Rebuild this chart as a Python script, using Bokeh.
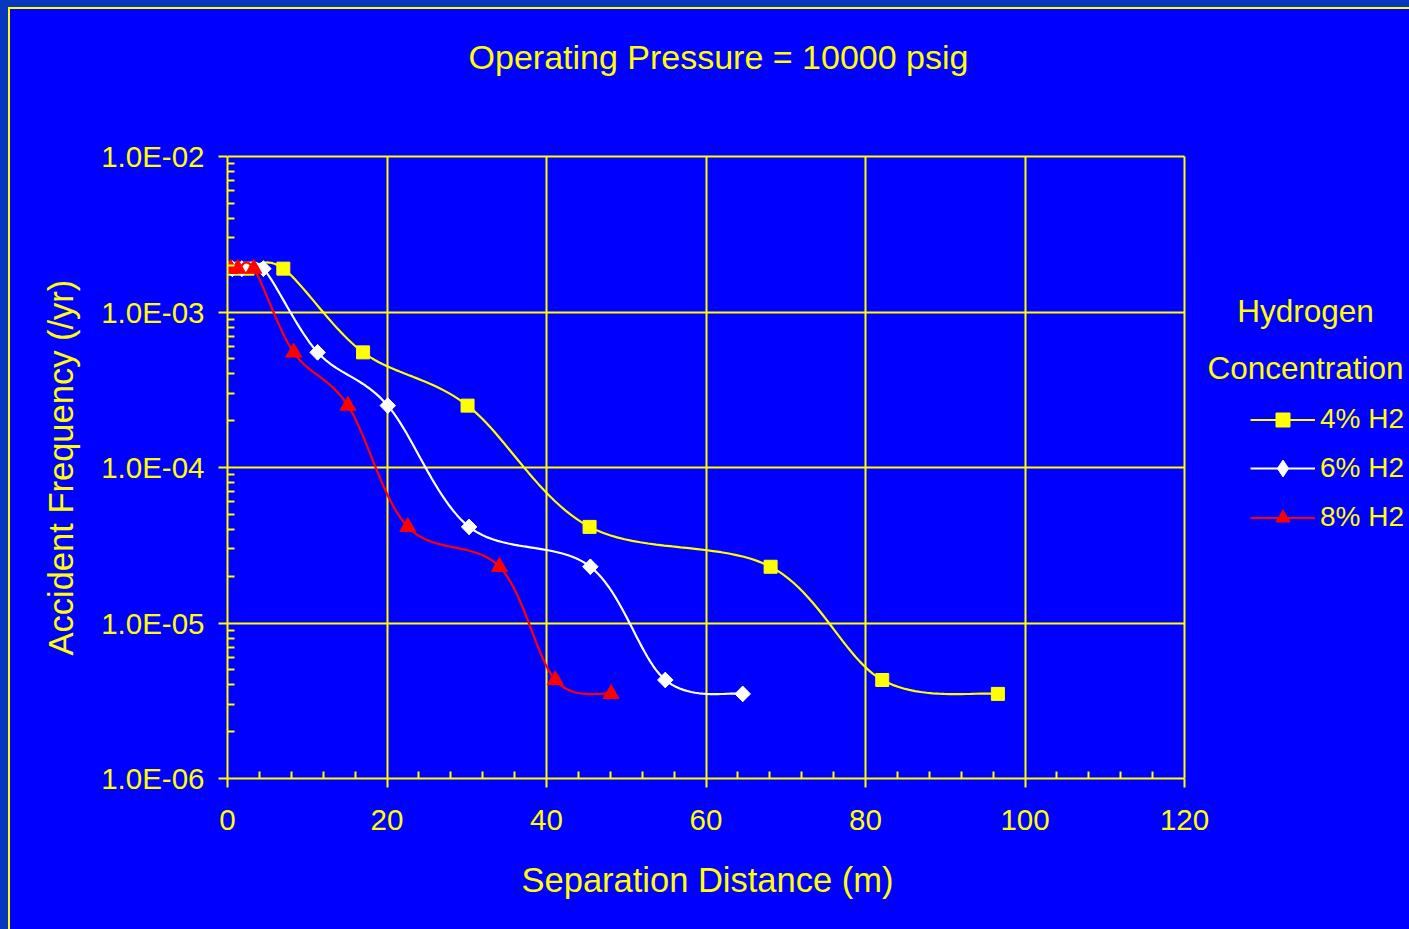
import numpy as np
from bokeh.plotting import figure
from bokeh.models import (Label, Legend, LegendItem, FixedTicker, CustomJSTickFormatter,
                          Range1d, Grid, Title)
from bokeh.embed import file_html
from bokeh.resources import INLINE

# ---------------- data ----------------
title_text = "Operating Pressure = 10000 psig"
x_label = "Separation Distance (m)"
y_label = "Accident Frequency (/yr)"
legend_title = ["Hydrogen", "Concentration"]
series_names = ["4% H2", "6% H2", "8% H2"]

dist_4 = [0.8, 2.5, 7.0, 17.0, 30.1, 45.4, 68.1, 82.1, 96.6]
freq_4 = [1.9e-3, 1.9e-3, 1.9e-3, 5.5e-4, 2.5e-4, 4.15e-5, 2.3e-5, 4.3e-6, 3.5e-6]

dist_6 = [0.6, 1.8, 4.5, 11.3, 20.1, 30.3, 45.5, 54.9, 64.6]
freq_6 = [1.9e-3, 1.9e-3, 1.9e-3, 5.5e-4, 2.5e-4, 4.15e-5, 2.3e-5, 4.3e-6, 3.5e-6]

dist_8 = [0.4, 1.3, 3.3, 8.3, 15.1, 22.6, 34.1, 41.1, 48.1]
freq_8 = [1.9e-3, 1.9e-3, 1.9e-3, 5.5e-4, 2.5e-4, 4.15e-5, 2.3e-5, 4.3e-6, 3.5e-6]

x_major_ticks = [0, 20, 40, 60, 80, 100, 120]
x_minor_ticks = [v for v in range(0, 121, 4) if v % 20]
y_major_ticks = [1e-6, 1e-5, 1e-4, 1e-3, 1e-2]
y_minor_ticks = [m * 10.0 ** e for e in range(-6, -2) for m in range(2, 10)]

# ---------------- styling / layout ----------------
YEL = "#FFFF00"
BLUE = "#0000FF"
DARK = "#0838C0"
FONT = "Liberation Sans"

W, H = 1399, 920            # canvas (page is 1409x929 incl. slide border)
LEFT, BOTTOM = 217, 151     # borders holding the axes
PLOT_W, PLOT_H = 957, 622   # pixel size of the 0..120 x 1e-6..1e-2 area
FRAME_W, FRAME_H = W - LEFT, H - BOTTOM

x0, x1 = x_major_ticks[0], x_major_ticks[-1]
ly0, ly1 = np.log10(y_major_ticks[0]), np.log10(y_major_ticks[-1])
x_end = x0 + (x1 - x0) * FRAME_W / PLOT_W
y_end = 10 ** (ly0 + (ly1 - ly0) * FRAME_H / PLOT_H)


def smooth(xs, ys, n=24):
    """Excel-like smoothed line (Bezier with 1/6 neighbour control points) in x / log10(y)."""
    P = np.column_stack([np.asarray(xs, float), np.log10(np.asarray(ys, float))])
    P = np.vstack([P[0], P, P[-1]])
    out = []
    m = len(P)
    for i in range(1, m - 2):
        p0, p1, p2, p3 = P[i - 1], P[i], P[i + 1], P[i + 2]
        c1 = p1 + (p2 - p0) / 6.0
        c2 = p2 - (p3 - p1) / 6.0
        t = np.linspace(0, 1, n, endpoint=(i == m - 3))[:, None]
        b = (1 - t) ** 3 * p1 + 3 * (1 - t) ** 2 * t * c1 + 3 * (1 - t) * t ** 2 * c2 + t ** 3 * p2
        out.append(b)
    out = np.vstack(out)
    return out[:, 0], 10 ** out[:, 1]


p = figure(width=W, height=H, x_range=Range1d(x0, x_end), y_range=Range1d(y_major_ticks[0], y_end),
           y_axis_type="log", output_backend="svg", toolbar_location=None,
           min_border_left=LEFT, min_border_right=0, min_border_top=0, min_border_bottom=BOTTOM,
           background_fill_color=None, border_fill_color=None, outline_line_color=None)
p.styles = {"margin": "9px 0 0 10px", "outline": "2px solid #FFFF00",
            "background-color": BLUE, "box-shadow": "0 0 0 20px " + DARK}

xt = FixedTicker(ticks=x_major_ticks, minor_ticks=x_minor_ticks)
yt = FixedTicker(ticks=y_major_ticks, minor_ticks=y_minor_ticks)
p.xaxis.ticker = xt
p.yaxis.ticker = yt
p.xaxis.bounds = (x0, x1)
p.yaxis.bounds = (y_major_ticks[0], y_major_ticks[-1])
p.yaxis.formatter = CustomJSTickFormatter(code="""
const e = Math.round(Math.log10(tick));
return "1.0E" + (e < 0 ? "-" : "+") + String(Math.abs(e)).padStart(2, "0");
""")

for ax in p.axis:
    ax.axis_line_color = YEL
    ax.axis_line_width = 2
    ax.major_tick_line_color = YEL
    ax.major_tick_line_width = 2
    ax.major_tick_in = 0
    ax.major_tick_out = 9
    ax.minor_tick_line_color = YEL
    ax.minor_tick_line_width = 2
    ax.minor_tick_in = 7
    ax.minor_tick_out = 0
    ax.major_label_text_color = YEL
    ax.major_label_text_font = FONT
    ax.major_label_text_font_size = "29.5px"
p.xaxis.major_label_standoff = 22
p.yaxis.major_label_standoff = 14

# axis titles placed along the plotting area (not the whole frame)
has_standoff = "standoff" in Title.properties()
xt_title = Title(text=x_label, align="left", offset=294, text_color=YEL, text_font=FONT,
                 text_font_size="34.5px", text_font_style="normal")
yt_title = Title(text=y_label, align="left", offset=123, text_color=YEL, text_font=FONT,
                 text_font_size="34.5px", text_font_style="normal")
if has_standoff:
    xt_title.standoff = 52
    yt_title.standoff = 37
p.add_layout(xt_title, "below")
p.add_layout(yt_title, "left")

# grid lines only over the plotting area
if "cross_bounds" in Grid.properties():
    p.xgrid.ticker = xt
    p.ygrid.ticker = yt
    p.xgrid.bounds = (x0, x1)
    p.ygrid.bounds = (y_major_ticks[0], y_major_ticks[-1])
    p.xgrid.cross_bounds = (y_major_ticks[0], y_major_ticks[-1])
    p.ygrid.cross_bounds = (x0, x1)
    for g in p.grid:
        g.grid_line_color = YEL
        g.grid_line_width = 2
        g.grid_line_alpha = 1
else:
    for g in p.grid:
        g.visible = False
    p.segment(x0=x_major_ticks, y0=[y_major_ticks[0]] * len(x_major_ticks),
              x1=x_major_ticks, y1=[y_major_ticks[-1]] * len(x_major_ticks),
              line_color=YEL, line_width=2)
    p.segment(x0=[x0] * len(y_major_ticks), y0=y_major_ticks,
              x1=[x1] * len(y_major_ticks), y1=y_major_ticks,
              line_color=YEL, line_width=2)

# series
series = [
    (dist_4, freq_4, YEL, dict(marker="square", size=13, angle=0), "square", 35),
    (dist_6, freq_6, "#FFFFFF", dict(marker="square", size=11, angle=np.pi / 4), "diamond", 42),
    (dist_8, freq_8, "#FF0000", dict(marker="triangle", size=16, angle=0), "triangle", 35),
]
legend_row_centers = [419, 468, 517]   # page pixel rows of the legend entries
for (xs, ys, col, mk, legend_marker, gh), name, yc in zip(series, series_names, legend_row_centers):
    sx, sy = smooth(xs, ys)
    ln = p.line(sx, sy, line_color=col, line_width=2.2)
    key = None
    if not (legend_marker == mk["marker"] and mk["angle"] == 0):
        # legend swatches ignore marker angle: a diamond fully covered by each
        # rotated square stands in for the legend key
        key = p.scatter(xs, ys, marker=legend_marker, size=15.5, fill_color=col, line_color=col)
    sc = p.scatter(xs, ys, fill_color=col, line_color=col, **mk)
    item = LegendItem(label=name, renderers=[ln, key if key is not None else sc])
    leg = Legend(items=[item], location=(1023, 778 - (yc + gh / 2)), orientation="vertical",
                 glyph_width=65, glyph_height=gh, label_height=gh, label_standoff=5,
                 spacing=0, padding=0, margin=0,
                 background_fill_alpha=0, border_line_alpha=0,
                 label_text_color=YEL, label_text_font=FONT, label_text_font_size="28px")
    p.add_layout(leg)

# title & legend heading (screen units from the plotting area's lower-left corner)
p.add_layout(Label(x=491, y=722, x_units="screen", y_units="screen", text=title_text,
                   text_align="center", text_baseline="middle", text_color=YEL,
                   text_font=FONT, text_font_size="34px"))
p.add_layout(Label(x=1078, y=468, x_units="screen", y_units="screen", text=legend_title[0],
                   text_align="center", text_baseline="middle", text_color=YEL,
                   text_font=FONT, text_font_size="31.5px"))
p.add_layout(Label(x=1078, y=411, x_units="screen", y_units="screen", text=legend_title[1],
                   text_align="center", text_baseline="middle", text_color=YEL,
                   text_font=FONT, text_font_size="31.5px"))

open("out.html", "w").write(file_html(p, INLINE))
